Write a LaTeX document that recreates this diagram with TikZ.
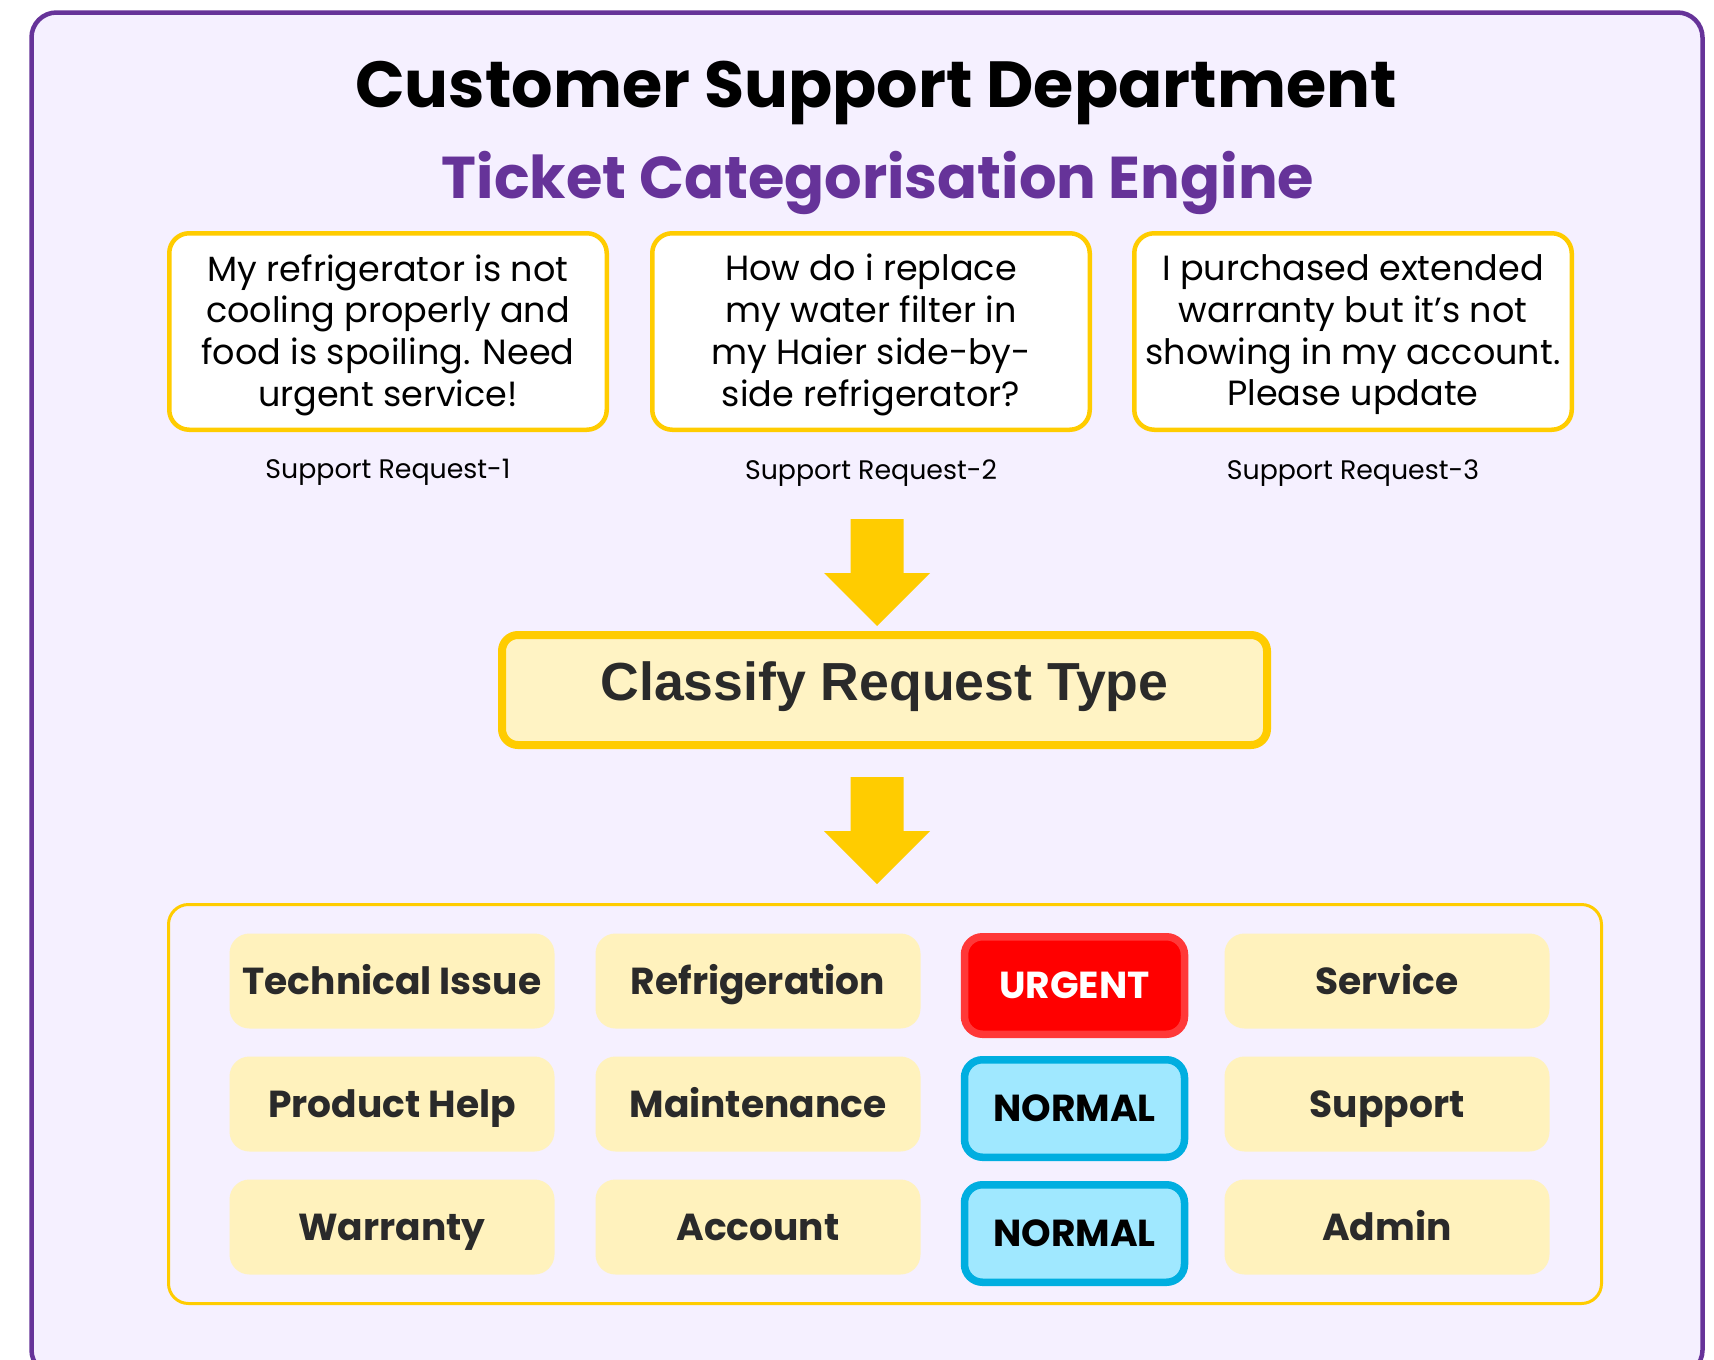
\documentclass[tikz,border=0pt]{standalone}
\usepackage{fontspec}
\setmainfont{Poppins}
\newfontfamily\classfont{Liberation Sans}
\usepackage{xcolor}
\usepackage{tikz}
\usetikzlibrary{positioning}

\definecolor{framepurple}{HTML}{663399}
\definecolor{panelbg}{HTML}{F5F0FF}
\definecolor{boxyellow}{HTML}{FFCC00}
\definecolor{cellfill}{HTML}{FFF2BD}
\definecolor{classfill}{HTML}{FFF3C4}
\definecolor{celltext}{HTML}{2A2A2A}
\definecolor{urgentfill}{HTML}{FF0000}
\definecolor{urgentline}{HTML}{FF3838}
\definecolor{normalfill}{HTML}{A0E8FF}
\definecolor{normalline}{HTML}{00AEE0}

\tikzset{
  reqbox/.style={draw=boxyellow, line width=2.25pt, fill=white, rounded corners=10pt,
    minimum width=218.75pt, minimum height=98.25pt},
  reqtext/.style={align=center, inner sep=0pt, yshift=-1.7pt,
    font=\fontsize{17.5}{20.85}\selectfont},
  reqlabel/.style={inner sep=0pt, font=\fontsize{13.4}{16}\selectfont},
  catcell/.style={fill=cellfill, rounded corners=10pt, minimum width=162.5pt,
    minimum height=47.5pt, text=celltext, text height=16pt, text depth=3pt,
    font=\fontsize{18.8}{22}\selectfont\bfseries},
  prio/.style={rounded corners=9pt, line width=3.75pt, minimum width=110pt,
    minimum height=48.75pt, text height=16pt, text depth=3pt,
    font=\fontsize{18.8}{22}\selectfont\bfseries},
  urgent/.style={prio, draw=urgentline, fill=urgentfill, text=white},
  normal/.style={prio, draw=normalline, fill=normalfill, text=black},
  downarrow/.pic={
    \fill[boxyellow] (-26.5,0) -- (26.5,0) -- (26.5,54) -- (53,54) -- (0,107)
      -- (-53,54) -- (-26.5,54) -- cycle;
  }
}

\begin{document}
\begin{tikzpicture}[x=0.5pt, y=-0.5pt]
    \useasboundingbox (0,0) rectangle (1714,1360);
    \clip (0,0) rectangle (1714,1360);
    \fill[white] (0,0) rectangle (1714,1360);
    \draw[framepurple, line width=2.25pt, fill=panelbg, rounded corners=12.5pt]
        (31.5,12.5) rectangle (1702.5,1375);

    % headings
    \node (title) [anchor=base, font=\fontsize{32.6}{38}\selectfont\bfseries]
        at (876,107) {Customer Support Department};
    \node (subtitle) [anchor=base, text=framepurple, font=\fontsize{29.5}{36}\selectfont\bfseries]
        at (878,198) {Ticket Categorisation Engine};

    % incoming requests
    \node (req1) [reqbox] at (388,331.5) {};
    \node (req2) [reqbox] at (871,331.5) {};
    \node (req3) [reqbox] at (1353,331.5) {};
    \node (req1txt) [reqtext] at (req1) {My refrigerator is not\\cooling properly and\\food is spoiling. Need\\urgent service!};
    \node (req2txt) [reqtext] at (req2) {How do i replace\\my water filter in\\my Haier side-by-\\side refrigerator?};
    \node (req3txt) [reqtext] at (req3) {I purchased extended\\warranty but it’s not\\showing in my account.\\Please update};

    \node (lab1) [reqlabel, below=13.5pt of req1] {Support Request-1};
    \node (lab2) [reqlabel, below=13.5pt of req2] {Support Request-2};
    \node (lab3) [reqlabel, below=13.5pt of req3] {Support Request-3};

    \coordinate (arrowin) at (877,519);
    \pic at (arrowin) {downarrow};

    \node (classify) [draw=boxyellow, line width=4pt, fill=classfill, rounded corners=8pt,
        minimum width=382.5pt, minimum height=55pt, text=celltext,
        text height=18pt, text depth=8pt,
        font=\classfont\fontsize{26.8}{30}\selectfont\bfseries]
        at (884.5,690) {Classify Request Type};

    \coordinate (arrowout) at (877,777);
    \pic at (arrowout) {downarrow};

    % categories
    \node (catframe) [draw=boxyellow, line width=1.5pt, rounded corners=10pt,
        minimum width=716.5pt, minimum height=199.5pt] at (885,1104) {};

    \node (tech) [catcell] at (392,981) {Technical Issue};
    \node (refrig) [catcell] at (758,981) {Refrigeration};
    \node (urg) [urgent] at (1074.5,985.5) {URGENT};
    \node (service) [catcell] at (1387,981) {Service};

    \node (prodhelp) [catcell] at (392,1104) {Product Help};
    \node (maint) [catcell] at (758,1104) {Maintenance};
    \node (norm1) [normal] at (1074.5,1108.5) {NORMAL};
    \node (support) [catcell] at (1387,1104) {Support};

    \node (warranty) [catcell] at (392,1227) {Warranty};
    \node (account) [catcell] at (758,1227) {Account};
    \node (norm2) [normal] at (1074.5,1233.5) {NORMAL};
    \node (admin) [catcell] at (1387,1227) {Admin};
\end{tikzpicture}
\end{document}
